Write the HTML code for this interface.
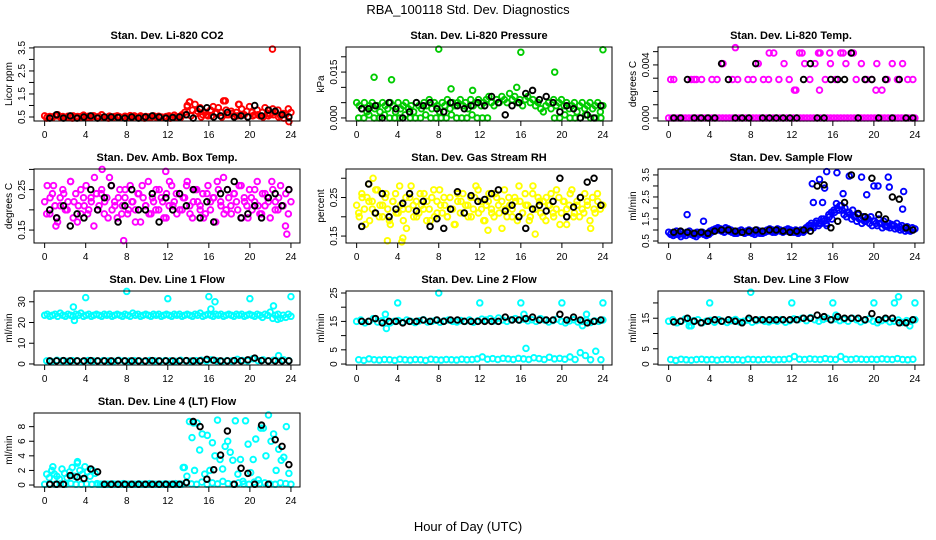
<!DOCTYPE html>
<html><head><meta charset="utf-8"><style>
body{margin:0;background:#fff;}
svg{display:block;font-family:"Liberation Sans",Arial,sans-serif;}
</style></head><body>
<svg id="c" width="936" height="540">
<text x="468" y="14" text-anchor="middle" font-size="13">RBA_100118  Std. Dev. Diagnostics</text>
<text x="468" y="531" text-anchor="middle" font-size="13">Hour of Day (UTC)</text>
</svg>
<script>
// ---- data ----
const xTicks=[0,4,8,12,16,20,24];
const co2A=[0.55,0.5,0.52,0.48,0.55,0.6,0.5,0.52,0.47,0.53,0.5,0.55,0.5,0.48,0.52,0.58,0.5,0.53,0.49,0.55,0.5,0.52,0.6,0.5,0.48,0.54,0.5,0.52,0.55,0.5,0.47,0.53,0.5,0.56,0.5,0.52,0.49,0.55,0.5,0.52,0.5,0.48,0.55,0.5,0.53,0.5,0.47,0.52,0.55,0.5,0.58,0.5,0.52,0.6,0.7,1.0,1.15,0.8,1.05,0.75,0.9,0.6,0.7,0.55,0.8,0.95,0.65,0.9,0.7,1.2,0.8,0.6,0.75,0.55,0.7,1.05,0.85,0.6,0.75,0.95,0.7,0.6,0.8,0.55,0.7,0.9,0.65,0.6,0.85,0.7,0.8,0.55,0.65,0.6,0.85,0.7];
const co2B=[0.45,0.5,0.55,0.48,0.5,0.45,0.52,0.5,0.47,0.55,0.5,0.48,0.45,0.5,0.52,0.5,0.48,0.55,0.5,0.45,0.5,0.52,0.48,0.5,0.45,0.5,0.48,0.6,0.55,0.65,0.5,0.6,0.55,0.7,0.5,0.6,0.65,0.55,0.6,0.5,0.55,0.6,0.5,0.55,0.6,0.5,0.45,0.3];
const co2Black=[0.45,0.6,0.45,0.55,0.45,0.5,0.55,0.45,0.5,0.5,0.48,0.45,0.5,0.45,0.5,0.55,0.5,0.45,0.48,0.5,0.6,0.45,0.85,0.9,0.5,0.55,0.7,0.5,0.55,0.5,1.0,0.55,0.8,0.75,0.6,0.5];
const co2ExtraH=[22.2,13.9,14.1,17.6,18.9];
const co2ExtraV=[3.45,0.95,1.15,1.2,1.05];

const presA=[.005,.004,.003,.005,.002,.004,.005,.003,.004,.002,.005,.004,.003,.005,.004,.002,.005,.003,.004,.005,.003,.004,.002,.005,.004,.003,.005,.004,.006,.003,.005,.004,.002,.005,.004,.006,.003,.005,.004,.005,.006,.004,.005,.003,.006,.004,.005,.006,.004,.005,.006,.007,.005,.004,.006,.005,.007,.006,.005,.008,.006,.007,.005,.006,.004,.006,.007,.005,.006,.004,.005,.003,.002,.004,.005,.003,.006,.004,.005,.006,.004,.005,.003,.004,.005,.002,.004,.005,.003,.004,.005,.003,.004,.005,.002,.004];
const presB=[0,0,.001,0,0,.001,0,0,0,.001,0,0,0,.001,0,0,0,0,.001,0,0,0,.001,0,0,0,null,null,null,null,null,null,null,null,null,null,null,null,0,0,.001,0,0,0,.001,0,0,0];
const presBlack=[.003,.003,.004,0,.005,.003,0,.002,.005,.004,.005,.003,.002,.005,.004,.003,.004,.005,.004,.007,.005,.001,.004,.005,.008,.009,.006,.007,.005,.002,.004,.003,0,.001,0,.004];
const presExtraH=[1.7,3.4,8,9.2,16,19.3,24,11.3,15.6];
const presExtraV=[.0133,.0125,.0225,.0095,.0215,.015,.0223,.009,.01];

const tempA=[0,0,0,0,0,0,0,0,0,0,0,0,0,0,0,0,0,0,0,0,0,0,0,0,0,0,0,0,0,0,0,0,0,0,0,0,0,0,0,0,0,0,0,0,0,0,0,0,0,0,0,0,0,0,0,0,0,0,0,0,0,0,0,0,0,0,0,0,0,0,0,0,0,0];
const tempB=[.0029,null,null,null,.0029,.0029,.0029,null,.0029,.0029,.0041,null,.0029,.0029,null,.0029,.0029,.0041,.0029,.0029,.0049,.0029,.0041,.0029,.0021,.0049,.0041,.0029,.0041,.0049,.0029,.0041,.0029,.0049,.0041,.0049,.0029,.0041,.0029,.0029,.0041,.0021,.0029,.0041,.0029,.0041,.0029,.0029];
const tempBlack=[0,0,.0029,0,0,0,0,.0041,.0029,0,0,0,.0041,0,0,0,0,0,0,.0029,.0041,0,0,.0029,.0029,.0029,.0049,0,.0029,.0029,0,.0029,0,.0029,0,0];
const tempExtraH=[6.5,9.8,14.6,15.7,17,18,12.4,14.7,20.2,5.3,13,0.5,2.5];
const tempExtraV=[.0053,.0049,.0049,.0049,.0049,.0049,.0021,.0021,.0021,.0041,.0049,.0029,.0029];

const ambA=[.22,.26,.19,.24,.21,.17,.23,.25,.2,.22,.27,.18,.24,.21,.19,.23,.26,.2,.22,.16,.24,.21,.25,.19,.23,.28,.2,.22,.18,.25,.21,.23,.19,.26,.22,.2,.24,.17,.23,.21,.27,.19,.22,.25,.2,.23,.18,.24,.21,.26,.22,.19,.24,.2,.23,.27,.21,.18,.25,.22,.2,.24,.19,.26,.22,.23,.17,.25,.21,.28,.2,.23,.19,.24,.22,.26,.18,.23,.21,.25,.2,.22,.27,.19,.24,.21,.23,.18,.25,.22,.2,.26,.21,.24,.19,.22];
const ambB=[.19,.23,.26,.18,.21,.24,.2,.27,.22,.17,.25,.21,.19,.23,.28,.2,.24,.22,.18,.26,.21,.23,.19,.25,.2,.22,.17,.24,.26,.21,.19,.23,.2,.25,.22,.18,.27,.21,.24,.2,.23,.26,.19,.22,.25,.21,.18,.24,.2,.23,.27,.22,.19,.25,.21,.24,.2,.26,.22,.18,.23,.25,.21,.19,.24,.22,.27,.2,.23,.21,.16,.25];
const ambBlack=[.2,.18,.21,.16,.19,.18,.25,.2,.23,.26,.17,.21,.25,.2,.2,.24,.17,.23,.2,.24,.21,.25,.18,.22,.17,.24,.25,.27,.18,.19,.21,.18,.23,.24,.21,.25];
const ambExtraH=[7.7,5.6,11.8,1.1,23.6];
const ambExtraV=[.124,.3,.295,.16,.14];

const rhA=[.23,.2,.26,.22,.25,.19,.24,.21,.27,.23,.2,.25,.22,.18,.24,.26,.21,.23,.19,.25,.22,.28,.2,.24,.21,.23,.26,.19,.22,.25,.2,.24,.27,.21,.23,.2,.25,.22,.18,.24,.21,.26,.23,.2,.25,.22,.28,.21,.24,.19,.23,.26,.22,.2,.25,.21,.24,.27,.2,.23,.22,.25,.19,.24,.21,.26,.23,.2,.28,.22,.25,.21,.24,.19,.23,.26,.2,.22,.25,.21,.24,.18,.23,.27,.21,.24,.2,.22,.26,.23,.19,.25,.21,.24,.22,.23];
const rhB=[.21,.25,.18,.24,.22,.27,.2,.23,.26,.19,.24,.21,.28,.22,.17,.25,.23,.2,.26,.22,.24,.19,.27,.21,.23,.25,.2,.22,.18,.26,.24,.21,.23,.2,.25,.27,.22,.19,.24,.21,.26,.23,.17,.22,.25,.2,.24,.28,.21,.23,.19,.26,.22,.24,.2,.25,.23,.21,.27,.18,.24,.22,.26,.2,.23,.25,.21,.24,.17,.22,.26,.23];
const rhBlack=[.175,.285,.21,.26,.2,.22,.235,.26,.215,.24,.175,.195,.17,.22,.265,.21,.255,.24,.245,.26,.27,.215,.23,.2,.17,.22,.23,.215,.24,.3,.2,.225,.25,.29,.3,.23];
const rhExtraH=[3,4.4,4.5,1.6,1.2,12.8,17.4];
const rhExtraV=[.138,.135,.145,.3,.285,.165,.155];

const flowA=[0.9,0.85,0.9,0.95,0.8,0.9,0.85,0.9,0.95,0.85,0.8,0.9,0.85,0.9,0.8,0.85,0.95,1.0,1.05,1.1,1.05,1.0,1.1,1.05,1.0,0.95,0.9,0.95,1.0,0.9,0.95,1.0,0.95,0.9,1.0,0.95,0.9,0.95,1.0,1.05,1.0,0.95,1.05,1.0,0.95,1.0,1.05,1.0,0.95,1.0,0.9,1.0,0.95,1.1,1.2,1.3,1.2,1.4,1.3,1.5,1.4,1.2,1.6,1.5,1.8,2.0,2.1,1.9,2.0,1.8,1.7,1.9,1.6,1.7,1.5,1.6,1.4,1.5,1.6,1.4,1.3,1.5,1.3,1.4,1.2,1.3,1.25,1.2,1.3,1.15,1.2,1.1,1.15,1.0,1.1,1.05];
const flowB=[0.8,0.75,0.8,0.85,0.7,0.8,0.75,0.85,0.8,0.75,0.7,0.8,0.9,0.8,0.75,0.8,0.9,0.95,1.0,1.0,0.95,0.9,1.0,0.95,0.9,0.85,0.85,0.9,0.9,0.85,0.9,0.9,0.85,0.8,0.9,0.85,0.85,0.9,0.95,0.95,0.9,0.9,1.0,0.95,0.9,0.95,0.95,0.9,0.9,0.9,0.85,0.95,0.9,1.0,1.1,1.2,1.1,1.3,1.2,1.3,1.5,1.3,1.7,1.8,1.9,2.2,1.9,2.1,1.7,1.6,1.8,1.5,1.6,1.4,1.5,1.3,1.4,1.5,1.3,1.2,1.4,1.2,1.3,1.1,1.2,1.15,1.1,1.2,1.05,1.1,1.0,1.05,0.95,1.0,0.95,1.0];
const flowBlack=[0.9,0.95,0.9,0.85,0.9,0.85,0.95,1.0,1.0,0.95,0.9,0.95,1.0,0.95,1.0,1.0,0.95,0.9,0.95,1.0,0.95,3.0,3.05,1.1,1.4,2.25,3.5,1.75,1.6,3.35,1.7,1.5,2.5,2.4,1.1,1.0];
const flowExtraH=[1.8,3.4,14,14.1,14.7,15,15.4,16.4,17.6,18.8,19.3,20,20.4,21.4,21.5,22.9,22.8,17,15.2];
const flowExtraV=[1.7,1.4,3.1,2.25,3.3,2.25,3.65,3.6,3.45,3.4,2.6,3.0,3.0,3.4,2.95,2.75,1.95,2.65,2.9];

const l1A=[23.5,24,23,23.5,24,23,24.5,23.5,23,24,23.5,23,24,23.5,24.5,23,23.5,24,23,23.5,24,23.5,23,24,23.5,24,23,23.5,24,23.5,23,24,23.5,23,24.5,23.5,24,23,23.5,24,23.5,23,24,23.5,24,23,23.5,24,23.5,23,24,23.5,24,23,23.5,24,23.5,23,24,23.5,24.5,23,23.5,24,23.5,23,24,23.5,24,23,23.5,24,23.5,23,24,23.5,24,23,23.5,24,23.5,23,24,23.5,22.5,24,23.5,25,22,23.5,24,22,23.5,22.5,24,23];
const l1B=[1.5,1.2,1.8,1.5,1.3,1.6,1.5,1.2,1.7,1.5,1.4,1.6,1.5,1.3,1.8,1.5,1.4,1.6,1.5,1.2,1.7,1.5,1.4,1.6,1.5,1.3,1.8,1.5,1.4,1.6,1.8,1.5,2.0,1.5,1.3,1.6,1.5,2.2,1.7,1.5,2.5,1.6,2.0,1.5,1.8,4,2,1.6];
const l1Black=[1.5,1.5,1.6,1.5,1.5,1.5,1.6,1.5,1.5,1.5,1.6,1.5,1.5,1.5,1.5,1.6,1.5,1.5,1.5,1.5,1.6,1.5,1.5,2.2,1.8,1.5,1.5,1.6,1.5,2.0,2.8,1.6,1.5,1.5,1.5,1.5];
const l1ExtraH=[2.8,2.9,4,8,12,16,16.2,16.6,20,22.3,24,22.7];
const l1ExtraV=[27.5,21,32,35,31.5,32.5,26.5,30,31.5,28,32.5,21.5];

const l2A=[15,15.5,14.5,15,16,14.8,15.2,15.5,14.5,15,15.3,14.7,15.5,15,14.6,15.2,15.6,14.8,15,15.4,14.7,15.2,15.5,15,14.8,15.3,15,15.5,14.7,15.2,15.8,15.5,16,15.2,16.2,15.5,15,15.6,16,15.4,15.8,15.2,15.6,15,16,15.5,14.8,15.3,15.8,15,14.5,15.2,15.6,14.8,15,15.4,14.6,15.2,15,15.5];
const l2B=[1.5,1.3,1.8,1.5,1.4,1.6,1.5,1.3,1.7,1.5,1.4,1.6,1.5,1.3,1.7,1.5,1.4,1.6,1.5,1.4,1.7,1.5,1.6,1.8,2.5,1.7,1.9,1.6,2,1.8,1.6,2.0,1.8,1.6,2.2,1.9,1.6,2.4,1.8,2.0,1.7,2.5,1.6,4,3,1.5,4.5,1.5];
const l2Black=[15,15,16,14.5,15,15,14.5,15,15,15.5,15,15.5,15,15.5,15.5,15,15,15,15,15,15,16.5,15.5,15.5,16,16.5,15.5,15.5,15.5,17.5,15.5,16.5,15.5,14.5,15,15.5];
const l2ExtraH=[2.8,2.9,4,8,12,16,16.3,16.5,20,24,22.4,22];
const l2ExtraV=[17.5,12.5,21.5,25,21.5,21.5,17.5,5.5,21.5,21.5,17.5,13.5];

const l3A=[14,14.5,13.5,14,14.8,13.8,14.2,14.5,13.5,14,14.3,13.7,14.5,14,13.6,14.2,14.6,13.8,14,14.4,13.7,14.2,14.5,14,13.8,14.3,14,14.5,13.7,14.2,14.8,14.5,15,14.2,15.2,14.5,14,14.6,15,14.4,14.8,14.2,14.6,14,15,14.5,13.8,14.3,14.8,14,13.5,14.2,14.6,13.8,14,14.4,13.6,14.2,14,14.5];
const l3B=[1.5,1.2,1.6,1.4,1.3,1.5,1.6,1.4,1.5,1.3,1.5,1.6,1.4,1.5,1.3,1.6,1.5,1.4,1.5,1.6,1.4,1.5,1.5,1.7,2.5,1.6,1.5,1.7,1.6,1.5,1.8,1.6,1.5,2.5,1.6,1.5,1.7,1.6,1.5,1.6,1.5,1.7,1.6,1.5,1.8,1.5,1.4,1.6];
const l3Black=[13.8,14,15,14,13.5,14,14.5,14,14.5,14,13.5,15,14.5,14.5,14.5,14.5,14.5,14.5,14.5,15,15,16,15.5,14.5,15.5,15,15,15,14.5,16.5,14.5,15,15,13.5,13.5,14.5];
const l3ExtraH=[2,2.2,4,8,12,16,16.3,20,22,22.4,23.5,24];
const l3ExtraV=[12.5,12.5,20,23.5,20,20,16,20,20,22,12.5,20];

const l4A=[0.1,0.2,0.1,0.15,0.1,0.2,0.1,0.1,0.15,0.1,0.2,0.1,0.1,0.15,0.1,0.2,0.1,0.1,0.15,0.1,0.2,0.1,0.1,0.15,0.1,0.2,0.1,0.3,0.15,0.1,0.4,0.1,0.3,0.15,0.5,0.2,0.1,0.3,0.15,0.1,0.4,0.2,0.3,0.15,0.1,0.3,0.2,0.1];
const l4B=[1.5,1,2,1.5,1.2,0.8,2.2,1.6,1,1.8,2.4,1.2,3,2,1.5,2.5,1.8,1.2,2,1.6,0.1,0.1,0.1,0.1,0.1,0.1,0.1,0.1,0.1,0.1,0.1,0.1,0.1,0.1,0.1,0.1,0.1,0.1,0.1,0.1,0.1,0.1,0.1,0.1,0.1,0.1,0.1,0.1,0.1,0.1,0.1,0.1,0.1,0.1,2.4,1.2,8.7,6.5,2,8.5,4.8,7,1.5,6.8,2,5.8,4,8.9,3.5,2.2,5.3,6,4.5,3.4,8.8,1.5,3.5,0.5,8.8,5.6,1.7,3.5,6.3,0.7,7.8,7.8,4,9.6,6,7,2,4.9,3.4,3.8,8,1.6];
const l4Black=[0.1,0.1,0.1,1.3,1.1,0.9,2.2,1.8,0.1,0.1,0.1,0.1,0.1,0.1,0.1,0.1,0.1,0.1,0.1,0.1,0.35,8.7,8,0.8,2.1,4.1,7.4,0.1,2.3,1.6,0.1,8.2,0.1,6.2,5.3,2.8];
const l4ExtraH=[0.8,3.2,13.5,14.5];
const l4ExtraV=[2.5,3.2,2.4,8.5];

const panels=[
 {name:'co2',title:'Stan. Dev. Li-820 CO2',yl:'Licor ppm',col:'#ff0000',c:0,r:0,ylim:[0.326,3.54],ticks:[0.5,1,1.5,2,2.5,3,3.5],labs:{0.5:'0.5',1.5:'1.5',2.5:'2.5',3.5:'3.5'},A:co2A,B:co2B,K:co2Black,EH:co2ExtraH,EV:co2ExtraV},
 {name:'pressure',title:'Stan. Dev. Li-820 Pressure',yl:'kPa',col:'#00cc00',c:1,r:0,ylim:[-0.001,0.0232],ticks:[0,.005,.01,.015,.02],labs:{0:'0.000',0.015:'0.015'},A:presA,B:presB,K:presBlack,EH:presExtraH,EV:presExtraV},
 {name:'temp',title:'Stan. Dev. Li-820 Temp.',yl:'degrees C',col:'#ff00ff',c:2,r:0,ylim:[-0.000225,0.00535],ticks:[0,.001,.002,.003,.004,.005],labs:{0:'0.000',0.004:'0.004'},A:tempA,B:tempB,K:tempBlack,EH:tempExtraH,EV:tempExtraV},
 {name:'amb-temp',title:'Stan. Dev. Amb. Box Temp.',yl:'degrees C',col:'#ff00ff',c:0,r:1,ylim:[0.118,0.301],ticks:[.15,.2,.25,.3],labs:{0.15:'0.15',0.25:'0.25'},A:ambA,B:ambB,K:ambBlack,EH:ambExtraH,EV:ambExtraV},
 {name:'rh',title:'Stan. Dev. Gas Stream RH',yl:'percent',col:'#ffff00',c:1,r:1,ylim:[0.132,0.324],ticks:[.15,.2,.25,.3],labs:{0.15:'0.15',0.25:'0.25'},A:rhA,B:rhB,K:rhBlack,EH:rhExtraH,EV:rhExtraV},
 {name:'sample-flow',title:'Stan. Dev. Sample Flow',yl:'ml/min',col:'#0000ff',c:2,r:1,ylim:[0.41,3.77],ticks:[.5,1,1.5,2,2.5,3,3.5],labs:{0.5:'0.5',1.5:'1.5',2.5:'2.5',3.5:'3.5'},A:flowA,B:flowB,K:flowBlack,EH:flowExtraH,EV:flowExtraV},
 {name:'line1',title:'Stan. Dev. Line 1 Flow',yl:'ml/min',col:'#00ffff',c:0,r:2,ylim:[-0.5,35.2],ticks:[0,10,20,30],labs:{0:'0',10:'10',20:'20',30:'30'},A:l1A,B:l1B,K:l1Black,EH:l1ExtraH,EV:l1ExtraV},
 {name:'line2',title:'Stan. Dev. Line 2 Flow',yl:'ml/min',col:'#00ffff',c:1,r:2,ylim:[-0.34,25.7],ticks:[0,5,10,15,20,25],labs:{0:'0',5:'5',15:'15',25:'25'},A:l2A,B:l2B,K:l2Black,EH:l2ExtraH,EV:l2ExtraV},
 {name:'line3',title:'Stan. Dev. Line 3 Flow',yl:'ml/min',col:'#00ffff',c:2,r:2,ylim:[-0.3,23.9],ticks:[0,5,10,15,20],labs:{0:'0',5:'5',15:'15'},A:l3A,B:l3B,K:l3Black,EH:l3ExtraH,EV:l3ExtraV},
 {name:'line4',title:'Stan. Dev. Line 4 (LT) Flow',yl:'ml/min',col:'#00ffff',c:0,r:3,ylim:[-0.27,9.87],ticks:[0,2,4,6,8],labs:{0:'0',2:'2',4:'4',6:'6',8:'8'},A:l4A,B:l4B,K:l4Black,EH:l4ExtraH,EV:l4ExtraV}
];

const NS='http://www.w3.org/2000/svg';
const svg=document.getElementById('c');
const colL=[34,346,658], rowT=[47,169,291,413], W=266, H=74;
function mk(tag,attrs,parent){const e=document.createElementNS(NS,tag);for(const k in attrs)e.setAttribute(k,attrs[k]);parent.appendChild(e);return e;}

panels.forEach(p=>{
  const L=colL[p.c], T=rowT[p.r];
  const g=mk('g',{},svg);
  
  
  const xs=h=>L+W*(0.04+h/24/1.08);
  const ys=v=>T+H-(v-p.ylim[0])/(p.ylim[1]-p.ylim[0])*H;
  const t=mk('text',{x:L+W/2,y:T-8,'text-anchor':'middle','font-size':11,'font-weight':'bold'},g);
  t.textContent=p.title;
  
  
  const pts=mk('g',{fill:'none','stroke-width':1.9},g);
  
  
  function draw(arr,color,x0,x1){
    arr.forEach((v,i)=>{ if(v===null)return;
      const h=arr.length>1?x0+(x1-x0)*i/(arr.length-1):x0;
      const c=mk('circle',{cx:xs(h),cy:ys(v),r:2.8,stroke:color},pts);
      
      
    });
  }
  draw(p.A,p.col,0,24);
  draw(p.B,p.col,0.2,23.8);
  p.EH.forEach((h,i)=>{
    const c=mk('circle',{cx:xs(h),cy:ys(p.EV[i]),r:2.8,stroke:p.col},pts);
    
    
  });
  draw(p.K,'#000',0.5,23.8);
  const box=mk('rect',{x:L,y:T,width:W,height:H,fill:'none',stroke:'#000','stroke-width':1},g);
  
  
  mk('line',{x1:xs(0),x2:xs(24),y1:T+H,y2:T+H,stroke:'#000'},g);
  xTicks.forEach(h=>{
    mk('line',{x1:xs(h),x2:xs(h),y1:T+H,y2:T+H+5,stroke:'#000'},g);
    const tl=mk('text',{x:xs(h),y:T+H+17,'text-anchor':'middle','font-size':10},g);
    tl.textContent=h;
    
    
  });
  p.ticks.forEach(v=>{
    const y=ys(v);
    mk('line',{x1:L-5,x2:L,y1:y,y2:y,stroke:'#000'},g);
    if(p.labs[v]!==undefined){
      const tl=mk('text',{x:0,y:0,'text-anchor':'middle','font-size':10,transform:`translate(${L-9},${y}) rotate(-90)`},g);
      tl.textContent=p.labs[v];
      
      
    }
  });
  const yl=mk('text',{x:0,y:0,'text-anchor':'middle','font-size':10,transform:`translate(${L-22},${T+H/2}) rotate(-90)`},g);
  yl.textContent=p.yl;
  
  
});
</script>
</body></html>
